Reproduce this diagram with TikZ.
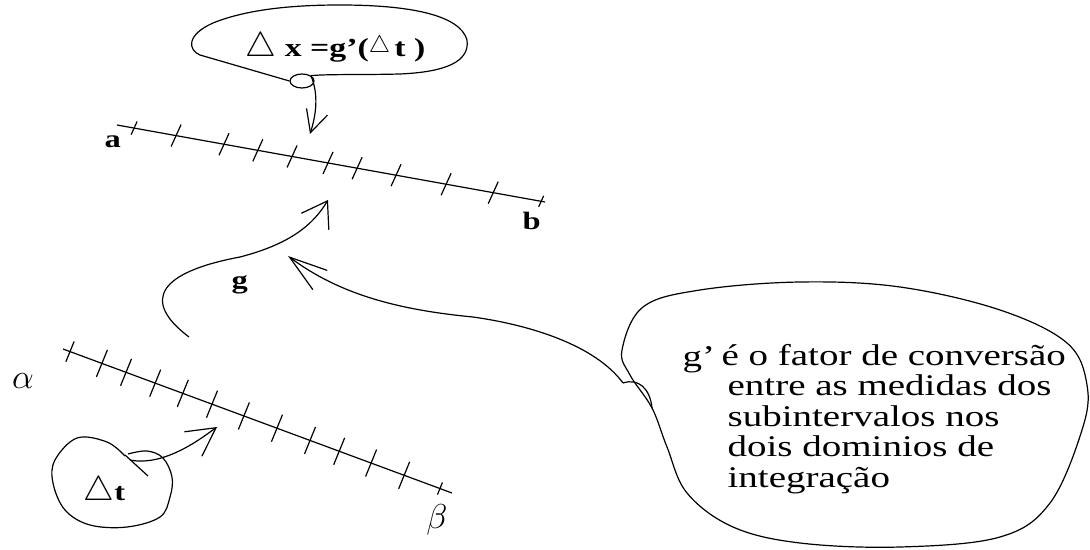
\documentclass[tikz,border=0pt]{standalone}
\usepackage{fontspec}
\setmainfont{Liberation Serif}[FakeStretch=1.3]
\usetikzlibrary{arrows.meta,calc,shapes.geometric}
\newcommand{\deltri}[1][16]{{\fontsize{#1}{#1}\selectfont$\triangle$}}

\begin{document}
\begin{tikzpicture}[x=0.5pt,y=-0.5pt,
    line width=0.6pt,
    barb/.style={-{Straight Barb[#1]}},
    lbl/.style={font=\fontsize{12.5}{12.5}\selectfont\bfseries, inner sep=0pt, anchor=base west},
    note/.style={font=\fontsize{15}{15.25}\selectfont, inner sep=0pt, anchor=base west, align=left}
  ]
  \useasboundingbox (0,0) rectangle (1090,550);

  % Bubble with the formula
  \node[draw, ellipse, minimum width=12pt, minimum height=7pt, inner sep=0pt] (knot) at (302,81) {};
  \draw (knot.west) -- (200,55) .. controls (188,50) and (186,35) .. (213,23)
    .. controls (250,8) and (300,5) .. (340,5) .. controls (410,5) and (460,15) .. (467,40)
    .. controls (470,62) and (445,72) .. (400,74) .. controls (360,75) and (330,74) .. (knot.north east);
  \node[font=\fontsize{13}{13}\selectfont, inner sep=0pt, anchor=base west] (dx) at (245,57)
    {\deltri\ \textbf{x =g’(}\raisebox{2pt}{\deltri[13]}\,\textbf{t )}};
  \coordinate (xt) at (310,134);
  \draw[barb={length=11pt,width=11pt}] (knot.north east) .. controls (319,95) and (316,115) .. (xt);

  % Interval a--b
  \coordinate (a0) at (117,125);
  \coordinate (b0) at (545,202);
  \draw (a0) -- (b0);
  \foreach \p/\h in {0.04/0.6,0.138/1,0.25/1,0.329/1,0.409/1,0.493/1,0.561/1,0.652/1,0.769/1,0.879/1,0.991/0.5}
    \draw ($(a0)!\p!(b0)$) +(5*\h,-11*\h) -- +(-5*\h,11*\h);
  \node[lbl] (a) at (104,148) {a};
  \node[lbl] (b) at (522,230) {b};

  % Interval alpha--beta
  \coordinate (al0) at (63,349);
  \coordinate (be0) at (452,493);
  \draw (al0) -- (be0);
  \foreach \p/\h in {0.018/0.75,0.1/1,0.162/1,0.237/1,0.308/1,0.383/1,0.465/1,0.55/1,0.635/1,0.71/1,0.792/1,0.877/1,0.969/0.45}
    \draw ($(al0)!\p!(be0)$) +(5.5*\h,-13.5*\h) -- +(-5.5*\h,13.5*\h);
  \node[font=\fontsize{19}{19}\selectfont, inner sep=0pt] (al) at (23,381) {$\alpha$};
  \node[font=\fontsize{17}{17}\selectfont, inner sep=0pt] (be) at (437,520) {$\beta$};

  % Map g
  \coordinate (gs) at (189,337);
  \coordinate (gt) at (328,200);
  \draw[barb={length=12pt,width=16pt}] (gs) .. controls (140,300) and (160,272) .. (240,257)
    .. controls (290,244) and (313,225) .. (gt);
  \node[lbl] (g) at (231,289) {g};

  % Blob with delta t
  \draw plot[smooth, tension=0.6] coordinates {(125,456) (107,442) (77,438) (55,460) (53,483) (65,510)
    (90,525) (127,527) (160,517) (170,497) (172,477) (163,458) (147,451) (128,454)};
  \draw (125,455) -- (148,476);
  \node[lbl] (dt) at (83,500) {\deltri[17]\textbf{t}};
  \coordinate (ds) at (130,460);
  \coordinate (dtip) at (217,427);
  \draw[barb={length=14pt,width=15pt}] (ds) .. controls (165,467) and (203,437) .. (dtip);

  % Bubble with the note
  \draw plot[smooth cycle, tension=0.6] coordinates {(622,350) (643,307) (700,290) (800,282) (900,287)
    (1000,310) (1067,343) (1087,385) (1082,430) (1050,503) (1000,537) (900,547) (800,543) (733,527)
    (687,493) (667,447) (652,408) (630,375)};
  \coordinate (ns) at (623,383);
  \coordinate (nt) at (288,256);
  \draw (ns) .. controls (638,378) and (650,388) .. (652,408);
  \draw[barb={length=19pt,width=12pt}] (ns) .. controls (595,345) and (530,325) .. (473,317)
    .. controls (400,310) and (340,295) .. (nt);
  \node[note] (gp) at (682,366) {g’};
  \node[note] (conv) at (727,487) {\hspace*{-3pt}é o fator de conversão\\entre as medidas dos\\subintervalos nos\\dois dominios de\\integração};
\end{tikzpicture}
\end{document}
